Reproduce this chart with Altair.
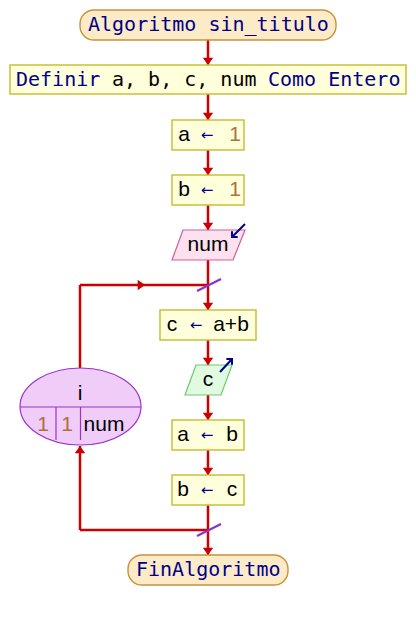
import altair as alt
import pandas as pd

# flowchart nodes, in page pixels (scales below map them 1:1)
box_x1 = [10, 172, 172, 160, 172, 172]
box_x2 = [406, 244, 244, 256, 244, 244]
box_y1 = [65, 120, 175, 310, 420, 475]
box_y2 = [94, 150, 205, 340, 450, 505]

term_x1 = [80, 128]
term_x2 = [336, 288]
term_y1 = [10, 555]
term_y2 = [40, 585]

# parallelograms: (top row, bottom row) per shape
para_id = ["in", "in", "out", "out"]
para_y = [230, 260, 365, 395]
para_xl = [183, 172, 196, 185]
para_xr = [245, 233, 232, 221]

# connectors
seg_x1 = [208, 208, 208, 208, 208, 208, 208, 208, 208, 208, 80, 80, 80]
seg_y1 = [40, 94, 150, 205, 260, 340, 395, 450, 505, 285, 285, 446, 530]
seg_x2 = [208, 208, 208, 208, 208, 208, 208, 208, 208, 80, 80, 80, 208]
seg_y2 = [65, 120, 175, 230, 310, 365, 420, 475, 555, 285, 368, 530, 530]

head_x = [208, 208, 208, 208, 208, 208, 208, 208, 208, 80, 145]
head_y = [65, 120, 175, 230, 310, 365, 420, 475, 555, 446, 285]
head_angle = [0, 0, 0, 0, 0, 0, 0, 0, 0, 180, 270]

slash_x1 = [197, 197]
slash_y1 = [291, 536]
slash_x2 = [221, 221]
slash_y2 = [279, 524]

# loop ellipse and its cells
ell_x, ell_y = 80.5, 406.5
cell_x1 = [20, 56, 80.5]
cell_y1 = [407, 407, 407]
cell_x2 = [141, 56, 80.5]
cell_y2 = [407, 440, 440]

# input / output arrows
io_x1 = [245, 220]
io_y1 = [224, 372]
io_x2 = [232, 232]
io_y2 = [237, 359]
io_angle = [45, 225]

NAVY = "#000088"
BLACK = "#000000"
BROWN = "#b0703c"

mono_text = ["Algoritmo sin_titulo", "Definir", "a, b, c, num", "Como Entero", "FinAlgoritmo"]
mono_x = [88, 16, 112, 268, 136]
mono_y = [25, 80, 80, 80, 570]
mono_col = [NAVY, NAVY, BLACK, NAVY, NAVY]

sans_text = ["a", "1", "b", "1", "num", "c", "a+b", "c", "a", "b", "b", "c",
             "i", "1", "1", "num"]
sans_x = [184, 235, 184, 235, 208, 172, 231, 208, 183, 232, 183, 232,
          80, 43, 67, 104]
sans_y = [135, 135, 190, 190, 245, 325, 325, 380, 435, 435, 490, 490,
          394, 425, 425, 425]
sans_col = [BLACK, BROWN, BLACK, BROWN, BLACK, BLACK, BLACK, BLACK, BLACK, BLACK, BLACK, BLACK,
            BLACK, BROWN, BROWN, BLACK]

arrow_x = [207, 207, 196, 207, 207]
arrow_y = [135, 190, 325, 435, 490]

xs = alt.Scale(domain=[8, 408], nice=False, zero=False)
ys = alt.Scale(domain=[8, 612], nice=False, zero=False, reverse=True)
X = lambda f="x": alt.X(f + ":Q", scale=xs, axis=None)
Y = lambda f="y": alt.Y(f + ":Q", scale=ys, axis=None)

RED = "#cc0000"
PURPLE = "#8833cc"

segs = pd.DataFrame({"x": seg_x1, "y": seg_y1, "x2": seg_x2, "y2": seg_y2})
lines = alt.Chart(segs).mark_rule(color=RED, strokeWidth=2.5).encode(
    x=X(), y=Y(), x2="x2", y2="y2")

heads = alt.Chart(pd.DataFrame({"x": head_x, "y": head_y, "a": head_angle})).mark_point(
    shape="M -1 -1.4 L 1 -1.4 L 0 0 Z", size=110, filled=True, color=RED, opacity=1
).encode(x=X(), y=Y(), angle=alt.Angle("a:Q", scale=None))

boxes = alt.Chart(pd.DataFrame({"x": box_x1, "x2": box_x2, "y": box_y1, "y2": box_y2})).mark_rect(
    fill="#ffffdc", stroke="#c8c03c", strokeWidth=1.5
).encode(x=X(), y=Y(), x2="x2", y2="y2")

terms = alt.Chart(pd.DataFrame({"x": term_x1, "x2": term_x2, "y": term_y1, "y2": term_y2})).mark_rect(
    fill="#fdebc8", stroke="#c8913b", strokeWidth=1.4, cornerRadius=14
).encode(x=X(), y=Y(), x2="x2", y2="y2")

paras = pd.DataFrame({"id": para_id, "y": para_y, "x": para_xl, "x2": para_xr})
p_in = alt.Chart(paras[paras.id == "in"]).mark_area(
    orient="horizontal", fill="#fde1ee", stroke="#d0609a", strokeWidth=1.2
).encode(y=Y(), x=X(), x2="x2")
p_out = alt.Chart(paras[paras.id == "out"]).mark_area(
    orient="horizontal", fill="#e1fbe1", stroke="#70c870", strokeWidth=1.2
).encode(y=Y(), x=X(), x2="x2")

ellipse = alt.Chart(pd.DataFrame({"x": [ell_x], "y": [ell_y]})).mark_point(
    shape="M -1 0 A 1 0.636 0 1 1 1 0 A 1 0.636 0 1 1 -1 0 Z", size=121 * 121,
    filled=True, fill="#efcdf8", stroke="#9933cc", strokeWidth=1.2, opacity=1
).encode(x=X(), y=Y())

cells = alt.Chart(pd.DataFrame({"x": cell_x1, "y": cell_y1, "x2": cell_x2, "y2": cell_y2})).mark_rule(
    color="#9933cc", strokeWidth=1.2).encode(x=X(), y=Y(), x2="x2", y2="y2")

slashes = alt.Chart(pd.DataFrame({"x": slash_x1, "y": slash_y1, "x2": slash_x2, "y2": slash_y2})).mark_rule(
    color=PURPLE, strokeWidth=2.2).encode(x=X(), y=Y(), x2="x2", y2="y2")

io_df = pd.DataFrame({"x": io_x1, "y": io_y1, "x2": io_x2, "y2": io_y2, "a": io_angle})
io_lines = alt.Chart(io_df).mark_rule(color=NAVY, strokeWidth=2).encode(
    x=X(), y=Y(), x2="x2", y2="y2")
io_heads = alt.Chart(io_df).mark_point(
    shape="M -1 -1 L 0 0 L 1 -1", size=64, filled=False, stroke=NAVY, strokeWidth=2, opacity=1
).encode(x=X("x2"), y=Y("y2"), angle=alt.Angle("a:Q", scale=None))

mono = alt.Chart(pd.DataFrame({"t": mono_text, "x": mono_x, "y": mono_y, "c": mono_col})).mark_text(
    font="DejaVu Sans Mono", fontSize=20, align="left", baseline="middle"
).encode(x=X(), y=Y(), text="t:N", color=alt.Color("c:N", scale=None))

sans = alt.Chart(pd.DataFrame({"t": sans_text, "x": sans_x, "y": sans_y, "c": sans_col})).mark_text(
    font="Liberation Sans", fontSize=21, align="center", baseline="middle"
).encode(x=X(), y=Y(), text="t:N", color=alt.Color("c:N", scale=None))

arrows = alt.Chart(pd.DataFrame({"x": arrow_x, "y": arrow_y, "t": ["←"] * len(arrow_x)})).mark_text(
    font="DejaVu Sans", fontSize=15, align="center", baseline="middle", color=NAVY
).encode(x=X(), y=Y(), text="t:N")

chart = alt.layer(
    lines, heads, slashes, boxes, terms, p_in, p_out, ellipse, cells,
    io_lines, io_heads, mono, sans, arrows
).properties(
    width=400, height=604, padding=0, autosize="none", background="white"
).configure_view(stroke=None)

chart.save("out.html", embed_options={"renderer": "svg", "actions": False})
